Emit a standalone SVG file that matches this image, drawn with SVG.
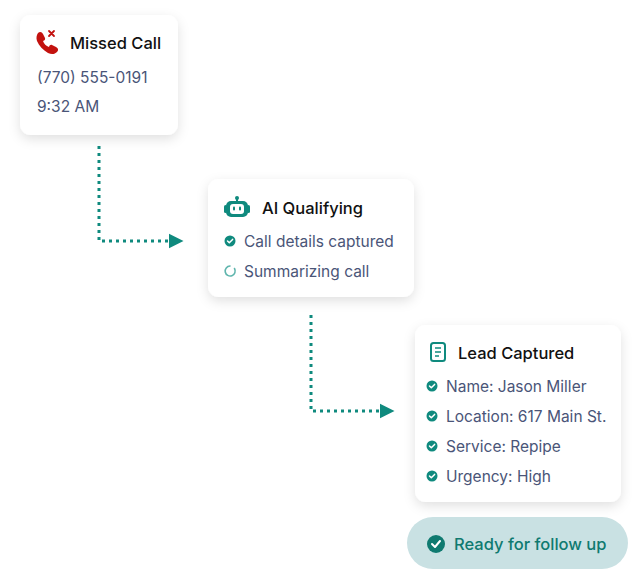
<svg xmlns="http://www.w3.org/2000/svg" width="642" height="569" viewBox="0 0 642 569">
<defs>
<filter id="sh" x="-20%" y="-20%" width="140%" height="150%"><feDropShadow dx="0" dy="4" stdDeviation="6" flood-color="#000" flood-opacity="0.12"/></filter>
<marker id="ar" viewBox="0 0 10 10" refX="1" refY="5" markerWidth="5" markerHeight="5.4" orient="auto" markerUnits="strokeWidth"><path d="M0,0 L10,5 L0,10 z" fill="#0f8a7e"/></marker>
<g id="chk"><circle r="5.5" fill="#0f8a7e"/><path d="M-2.5,0 L-0.7,1.8 L2.6,-1.6" fill="none" stroke="#fff" stroke-width="1.5" stroke-linecap="round" stroke-linejoin="round"/></g>
</defs>
<style>
.card{fill:#fff;filter:url(#sh)}
.t{font-family:Inter,"Noto Sans",sans-serif;font-size:16.5px;fill:#111;font-weight:500}
.s{font-family:Inter,"Noto Sans",sans-serif;font-size:15.5px;fill:#4a5578}
.con{fill:none;stroke:#0f8a7e;stroke-width:3;stroke-dasharray:3 4}
</style>
<rect width="642" height="569" fill="#fff"/>
<g id="connectors">
<path class="con" d="M99,146 V241 H170" marker-end="url(#ar)"/>
<path class="con" d="M311,315 V411 H381" marker-end="url(#ar)"/>
</g>
<g id="missed">
<rect class="card" x="20" y="15" width="158" height="120" rx="11"/>
<path d="M38,33 c2,-2 4,-1 5,1 l2,4 c0.5,1.5 -0.5,2.5 -2,3 c1,3 3,5 6,6 c0.5,-1.5 1.5,-2.5 3,-2 l4,2 c2,1 3,3 1,5 c-2,2 -5,3 -9,1 c-5,-3 -9,-7 -11,-12 c-1,-3 -0.5,-6 1,-8z" fill="#c3120f"/>
<path d="M49,31 l5,5 M54,31 l-5,5" stroke="#c3120f" stroke-width="1.8" stroke-linecap="round"/>
<text class="t" x="70" y="49">Missed Call</text>
<text class="s" x="37" y="83">(770) 555-0191</text>
<text class="s" x="37" y="112">9:32 AM</text>
</g>
<g id="ai">
<rect class="card" x="208" y="179" width="206" height="118" rx="11"/>
<g fill="#0f8a7e"><circle cx="237" cy="198" r="2"/><rect x="236" y="198" width="2" height="4"/><rect x="226" y="201" width="22" height="16" rx="5"/><rect x="224" y="205" width="3" height="8" rx="1.5"/><rect x="247" y="205" width="3" height="8" rx="1.5"/></g>
<rect x="230" y="204" width="14" height="10" rx="3" fill="#fff"/>
<rect x="233" y="206.5" width="2" height="4" rx="1" fill="#0f8a7e"/><rect x="239" y="206.5" width="2" height="4" rx="1" fill="#0f8a7e"/>
<text class="t" x="262" y="214">AI Qualifying</text>
<use href="#chk" x="230" y="241"/>
<text class="s" x="244" y="247">Call details captured</text>
<path d="M230,266 a5,5 0 1 0 4.5,2.5" fill="none" stroke="#5fb5ad" stroke-width="1.6" stroke-linecap="round"/>
<text class="s" x="244" y="277">Summarizing call</text>
</g>
<g id="lead">
<rect class="card" x="415" y="325" width="206" height="177" rx="11"/>
<rect x="431" y="343" width="14" height="18" rx="2.5" fill="none" stroke="#0f8a7e" stroke-width="2"/>
<path d="M435,348 h6 M435,352 h6 M435,356 h4" stroke="#0f8a7e" stroke-width="1.6"/>
<text class="t" x="458" y="359">Lead Captured</text>
<use href="#chk" x="432" y="386"/><text class="s" x="446" y="392">Name: Jason Miller</text>
<use href="#chk" x="432" y="416"/><text class="s" x="446" y="422">Location: 617 Main St.</text>
<use href="#chk" x="432" y="446"/><text class="s" x="446" y="452">Service: Repipe</text>
<use href="#chk" x="432" y="476"/><text class="s" x="446" y="482">Urgency: High</text>
</g>
<g id="ready">
<rect x="407" y="517" width="221" height="52" rx="26" fill="#c9e1e3"/>
<circle cx="436" cy="544" r="9" fill="#0f7a70"/>
<path d="M432,544 L435,547 L440,541" fill="none" stroke="#fff" stroke-width="2" stroke-linecap="round" stroke-linejoin="round"/>
<text x="454" y="550" font-family="Inter,'Noto Sans',sans-serif" font-size="16.5" font-weight="500" fill="#0f7a70">Ready for follow up</text>
</g>
</svg>
